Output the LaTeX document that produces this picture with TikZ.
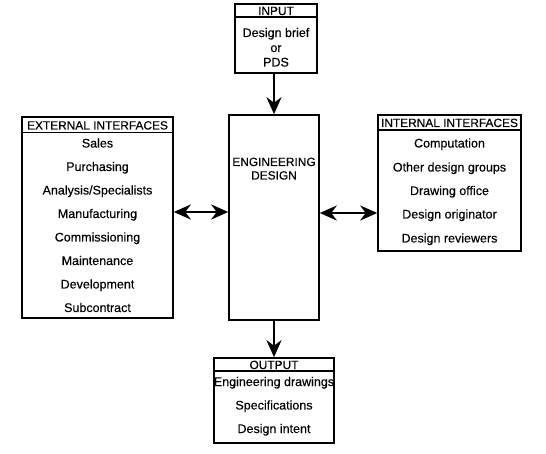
\documentclass[tikz,border=0pt]{standalone}
\usepackage{fontspec}
\setmainfont{Liberation Sans}
\usetikzlibrary{arrows.meta}
\begin{document}
\begin{tikzpicture}[x=1pt,y=-1pt,
  box/.style={draw,line width=1.6pt,inner sep=0pt,minimum width=#1},
  txt/.style={font=\fontsize{12.5}{14}\selectfont\addfontfeature{FakeBold=0.3},inner sep=0pt,text height=9pt,text depth=0pt},
  ttl/.style={txt,font=\fontsize{11.9}{14}\selectfont\addfontfeature{FakeBold=0.3}},
  sep/.style={line width=1.3pt},
  tip/.tip={Stealth[length=17pt,width=15pt,inset=5.5pt]},
  arr/.style={line width=2.3pt,-tip},
  darr/.style={line width=2.3pt,tip-tip}]
\useasboundingbox (0,0) rectangle (546,454);
% boxes
\node[box=82pt,minimum height=69pt] (inp) at (276,38.5) {};
\node[box=90pt,minimum height=205pt] (eng) at (274,217.5) {};
\node[box=151pt,minimum height=201pt] (ext) at (97.5,217.5) {};
\node[box=143pt,minimum height=136pt] (int) at (449.5,183) {};
\node[box=120pt,minimum height=85pt] (out) at (274,400.5) {};
% header separators
\coordinate (hi) at (0,17);
\coordinate (he) at (0,132.5);
\coordinate (hn) at (0,130);
\coordinate (ho) at (0,371);
\draw[sep] (inp.west |- hi) -- (inp.east |- hi);
\draw[sep] (ext.west |- he) -- (ext.east |- he);
\draw[sep] (int.west |- hn) -- (int.east |- hn);
\draw[sep] (out.west |- ho) -- (out.east |- ho);
% input texts
\node[ttl] (inpt) at (276,10.5) {INPUT};
\node[txt] (inp1) at (276,32.5) {Design brief};
\node[txt] (inp2) at (276,47.5) {or};
\node[txt] (inp3) at (276,62) {PDS};
% engineering design
\node[ttl] (engt1) at (274,161.5) {ENGINEERING};
\node[ttl] (engt2) at (274,175) {DESIGN};
% external
\node[ttl] (extt) at (97.5,125) {EXTERNAL INTERFACES};
\node[txt] (e1) at (97.5,143) {Sales};
\node[txt] (e2) at (97.5,166.5) {Purchasing};
\node[txt] (e3) at (97.5,190) {Analysis/Specialists};
\node[txt] (e4) at (97.5,213.5) {Manufacturing};
\node[txt] (e5) at (97.5,237) {Commissioning};
\node[txt] (e6) at (97.5,260.5) {Maintenance};
\node[txt] (e7) at (97.5,284) {Development};
\node[txt] (e8) at (97.5,307.5) {Subcontract};
% internal
\node[ttl] (intt) at (449.5,122.5) {INTERNAL INTERFACES};
\node[txt] (i1) at (449.5,143) {Computation};
\node[txt] (i2) at (449.5,167) {Other design groups};
\node[txt] (i3) at (449.5,190.5) {Drawing office};
\node[txt] (i4) at (449.5,214) {Design originator};
\node[txt] (i5) at (449.5,238) {Design reviewers};
% output
\node[ttl] (outt) at (274,364.5) {OUTPUT};
\node[txt] (o1) at (274,381.5) {Engineering drawings};
\node[txt] (o2) at (274,405) {Specifications};
\node[txt] (o3) at (274,428.5) {Design intent};
% connectors
\coordinate (la) at (0,212);
\coordinate (ra) at (0,213);
\draw[arr] (inp.south -| eng.north) -- (eng.north);
\draw[arr] (eng.south) -- (out.north);
\draw[darr] (ext.east |- la) -- (eng.west |- la);
\draw[darr] (eng.east |- ra) -- (int.west |- ra);
\end{tikzpicture}
\end{document}
